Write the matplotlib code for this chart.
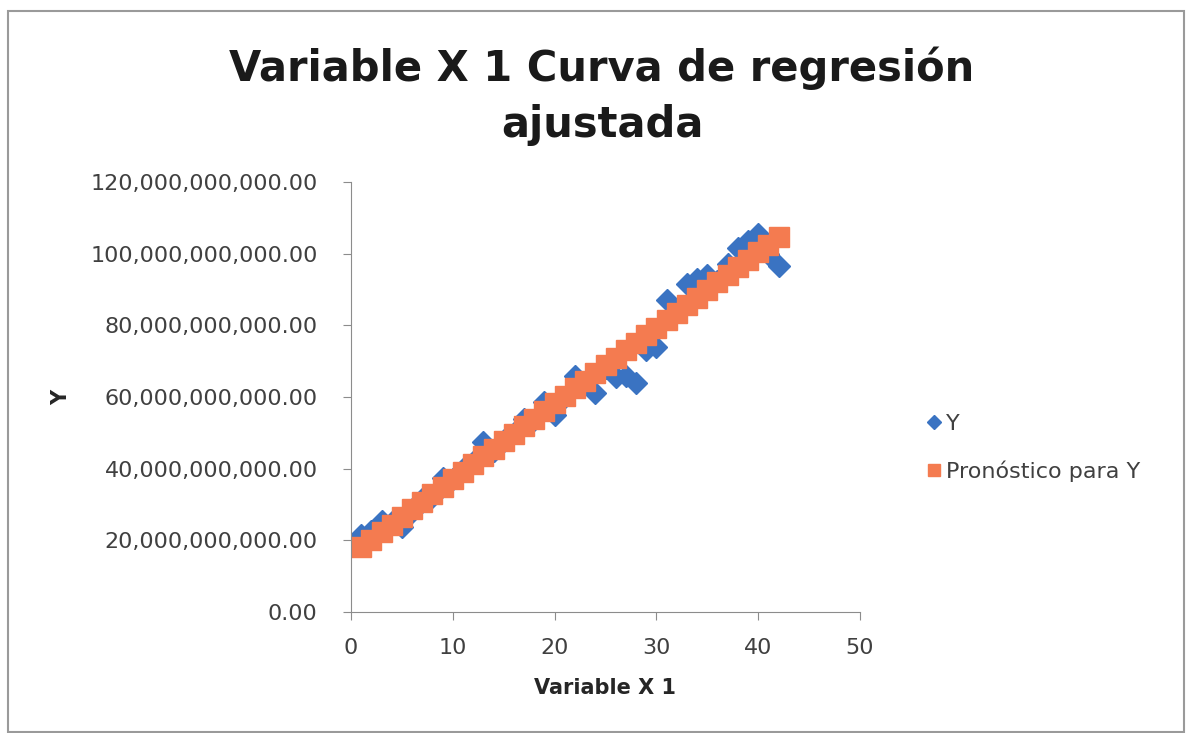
import matplotlib.pyplot as plt
from matplotlib.patches import Rectangle
from matplotlib.ticker import FuncFormatter

# Data (Y in units of 1e9)
x_vals = list(range(1, 43))
y_obs = [21.5, 22.5, 25.5, 25.0, 23.8, 28.0, 31.5, 32.0, 37.5, 37.0,
         40.0, 42.0, 47.5, 45.0, 48.0, 50.0, 54.0, 53.5, 58.5, 55.0,
         60.0, 66.0, 64.0, 61.0, 68.0, 65.5, 66.0, 64.0, 73.0, 74.0,
         87.0, 84.0, 91.5, 93.0, 94.0, 92.5, 97.0, 101.5, 103.5, 105.5,
         100.0, 96.5]
y_pred = [18.1, 20.2, 22.3, 24.4, 26.6, 28.7, 30.8, 32.9, 35.0, 37.1,
          39.2, 41.3, 43.4, 45.5, 47.7, 49.8, 51.9, 54.0, 56.1, 58.2,
          60.3, 62.4, 64.5, 66.6, 68.8, 70.9, 73.0, 75.1, 77.2, 79.3,
          81.4, 83.5, 85.6, 87.7, 89.9, 92.0, 94.1, 96.2, 98.3, 100.4,
          102.5, 104.6]
y_obs = [v * 1e9 for v in y_obs]
y_pred = [v * 1e9 for v in y_pred]

plt.rcParams['font.family'] = ['DejaVu Sans']

fig = plt.figure(figsize=(11.87, 7.33), dpi=100)
ax = fig.add_axes([351 / 1187, 1 - 612 / 733, (860 - 351) / 1187, (612 - 182) / 733])

blue = '#3A73C2'
orange = '#F47B50'
ax.plot(x_vals, y_obs, 'D', color=blue, markersize=11, linestyle='none', label='Y')
ax.plot(x_vals, y_pred, 's', color=orange, markersize=14, linestyle='none',
        label='Pronóstico para Y')

ax.set_xlim(0, 50)
ax.set_ylim(0, 120e9)
ax.set_xticks(range(0, 51, 10))
ax.set_yticks([i * 20e9 for i in range(7)])
ax.yaxis.set_major_formatter(FuncFormatter(lambda v, p: f'{v:,.2f}'))

for side in ['top', 'right']:
    ax.spines[side].set_visible(False)
for side in ['left', 'bottom']:
    ax.spines[side].set_color('#8c8c8c')
ax.tick_params(axis='both', colors='#8c8c8c', labelcolor='#404040', labelsize=16,
               length=6, direction='out')
ax.tick_params(axis='x', pad=13)
ax.tick_params(axis='y', pad=18)

ax.set_xlabel('Variable X 1', fontsize=15, fontweight='bold', color='#262626', labelpad=14)
ax.set_ylabel('Y', fontsize=15, fontweight='bold', color='#262626')
ax.yaxis.set_label_coords(-0.55, 0.5)

fig.text(602 / 1187, 1 - 68 / 733, 'Variable X 1 Curva de regresión', ha='center',
         va='center', fontsize=30, fontweight='bold', color='#1a1a1a')
fig.text(602 / 1187, 1 - 125 / 733, 'ajustada', ha='center', va='center',
         fontsize=30, fontweight='bold', color='#1a1a1a')

leg = fig.legend(loc='center left', bbox_to_anchor=(903 / 1187, 1 - 448 / 733),
                 frameon=False, fontsize=16, handletextpad=0.05, handlelength=1.0,
                 labelspacing=1.2, markerscale=0.65)
for t in leg.get_texts():
    t.set_color('#404040')

fig.patches.append(Rectangle((8 / 1187, 1 / 733), (1184 - 8) / 1187, (722 - 1) / 733,
                             transform=fig.transFigure, fill=False,
                             edgecolor='#9a9a9a', linewidth=1.5))

plt.savefig('out.png', dpi=100)
